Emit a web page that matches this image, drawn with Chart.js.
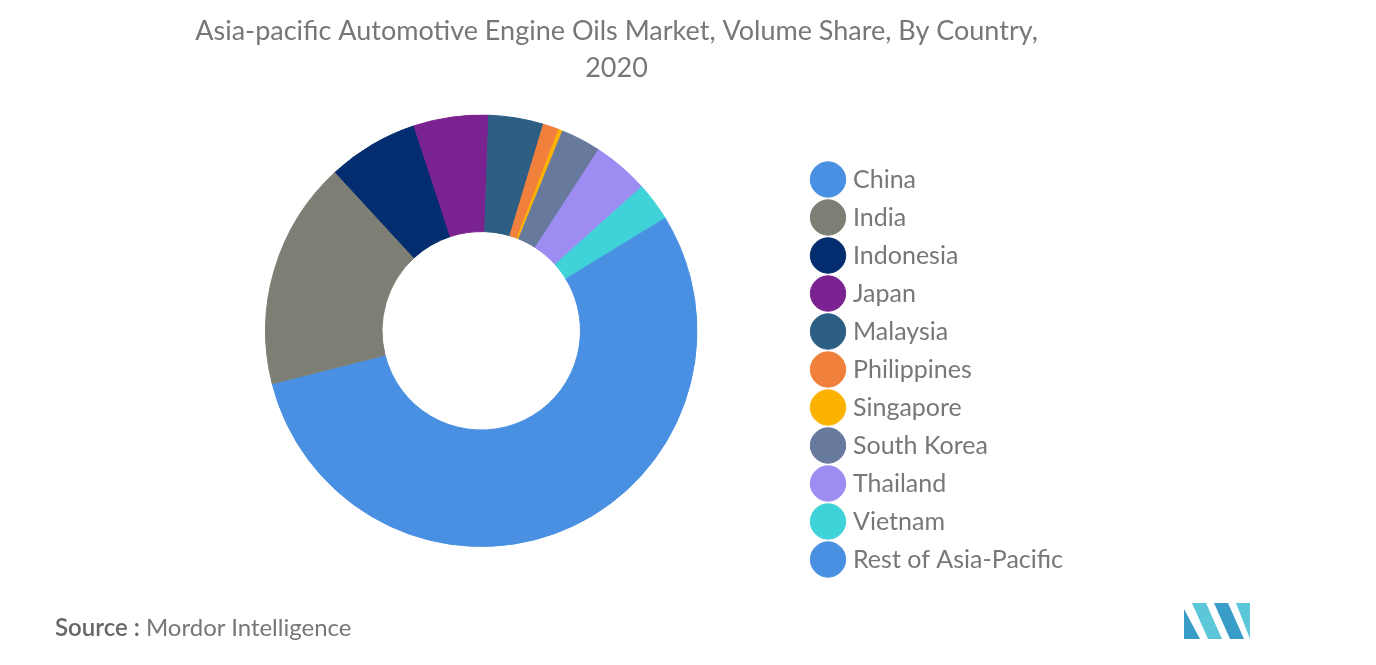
<!DOCTYPE html>
<html><head><meta charset="utf-8">
<script src="https://cdn.jsdelivr.net/npm/chart.js@4"></script>
<style>
body{margin:0;background:#fff;font-family:Lato,"Open Sans",sans-serif;}
#wrap{position:absolute;left:0;top:0;width:1376px;height:665px;}
#src{position:absolute;left:55px;top:612px;font-size:24px;color:#777;}
#src b{color:#666;font-weight:600}
</style></head><body>
<div id="wrap"><canvas id="c"></canvas></div>
<div id="src"><b>Source :</b> Mordor Intelligence</div>
<svg style="position:absolute;left:1184px;top:603px" width="66" height="36" viewBox="0 0 66 36">
<polygon points="0,36 0,6 16,36" fill="#3a9dc7"/><polygon points="8,0 22,0 38,36 24,36" fill="#5cc7d8"/>
<polygon points="30,0 44,0 60,36 46,36" fill="#3a9dc7"/><polygon points="52,0 66,0 66,36" fill="#5cc7d8"/>
</svg>
<script>
const countries = ['China','India','Indonesia','Japan','Malaysia','Philippines','Singapore','South Korea','Thailand','Vietnam','Rest of Asia-Pacific'];
const shares = [50.0, 17.1, 6.8, 5.6, 4.1, 1.2, 0.3, 3.0, 4.2, 2.9, 4.8];
const colors = ['#4a90e2','#7e7f74','#032d6e','#7b2291','#2d5f85','#f0803c','#fbb300','#68799e','#9d8cf2','#3fd2d9','#4a90e2'];

// push the legend down a bit, like the reference
const legendShift = {
  id: 'legendShift',
  beforeDraw(chart) {
    const lg = chart.legend, dy = 96;
    const boxes = lg.legendHitBoxes || [];
    if (lg._shifted === boxes) return;
    lg.top += dy; lg.bottom += dy;
    boxes.forEach(h => { h.top += dy; });
    lg._shifted = boxes;
  }
};

new Chart(document.getElementById('c'), {
  type: 'doughnut',
  data: { labels: countries, datasets: [{ data: shares, backgroundColor: colors, borderColor: colors, borderWidth: 1 }] },
  options: {
    responsive: true, maintainAspectRatio: false, animation: false,
    rotation: 75.8, cutout: '46%',
    layout: { padding: { left: 160, right: 303, top: 0, bottom: 118 } },
    plugins: {
      tooltip: { enabled: false },
      title: { display: true, text: ['Asia-pacific Automotive Engine Oils Market, Volume Share, By Country,', '2020'],
        color: '#777', font: { family: 'Lato', size: 27, weight: 'normal', lineHeight: 1.4 }, padding: { top: 12, bottom: 27 } },
      legend: { position: 'right', align: 'center',
        labels: { usePointStyle: true, pointStyle: 'circle', boxWidth: 26, boxHeight: 26, padding: 13,
          color: '#777', font: { family: 'Lato', size: 25 } } }
    }
  },
  plugins: [legendShift]
});
</script></body></html>
